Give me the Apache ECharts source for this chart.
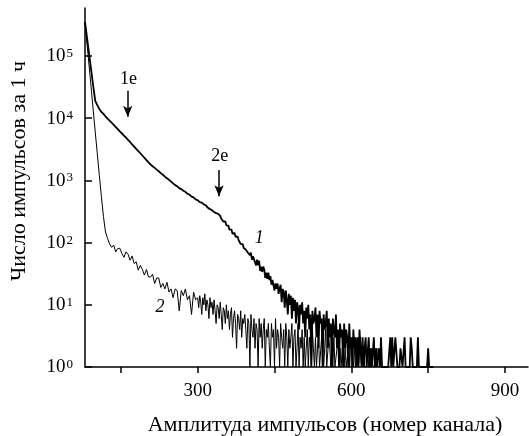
<!DOCTYPE html>
<html>
<head>
<meta charset="utf-8">
<script src="https://cdn.jsdelivr.net/npm/echarts@6/dist/echarts.min.js"></script>
<style>
  html, body { margin: 0; padding: 0; background: #fff; }
  #chart { width: 529px; height: 436px; }
</style>
</head>
<body>
<div id="chart"></div>
<script>
// Pulse-height spectra, counts per hour.
// Head part: one value every 4 channels from channel 80 to 300.
// Tail part: one value every 2 channels from channel 302 onwards.
const HEAD_START = 80, HEAD_STEP = 4;
const TAIL_START = 302, TAIL_STEP = 2;

// Spectrum 1 (thick curve)
const spectrum1Head = [
  352000, 195000, 108000, 59700, 33000, 19000, 16200, 14100, 12600, 11700, 10700, 9800, 9100,
  8450, 7810, 7210, 6670, 6150, 5690, 5250, 4850, 4480, 4140,
  3800, 3500, 3220, 2960, 2730, 2510, 2310, 2120, 1950, 1800,
  1690, 1590, 1490, 1400, 1310, 1230, 1150, 1080, 1020, 953, 894, 839,
  805, 752, 724, 680, 655, 610, 592, 549, 533, 496, 480
];
const spectrum1Tail = [
  471, 448, 437, 439, 414, 411, 393, 396, 381, 362, 364, 345, 347, 330, 327, 311, 312, 297, 286, 290, 272,
  268, 243, 250, 218, 215, 219, 189, 194, 188, 161, 160, 162, 138, 142, 143, 124, 116, 125, 109, 109,
  95, 101, 94, 82, 87, 77, 81, 69, 70, 63,
  69, 53, 60, 63, 48, 43, 53, 43, 51, 35, 41, 34, 41, 37, 27, 33, 26, 33, 25, 29, 21, 25, 25, 17, 22, 18, 22, 15, 18,
  21, 11, 18, 16, 9, 17, 12, 7, 15, 10, 14, 6, 13, 8, 12, 5, 11, 9, 4, 10,
  7, 11, 5, 8, 3, 9, 6, 10, 4, 7, 1, 8, 5, 6, 9, 3, 7, 2, 8, 5, 6, 1, 7, 4, 5, 8, 2, 6, 3, 5,
  1, 6, 4, 3, 7, 2, 4, 1, 5, 3, 4, 1, 5, 2, 4, 3, 1, 5, 2, 3,
  1, 4, 2, 3, 1, 3, 1, 4, 2, 1, 3, 1, 2, 3, 1, 1, 3, 1, 2, 1, 1, 3, 1, 2, 1, 1, 2, 1, 3, 1,
  1, 1, 1, 1, 1, 1, 1, 3, 1, 3, 1, 1, 3, 3, 1, 1, 1, 2, 2, 1, 1, 3, 1, 1, 1, 1, 1, 3, 2, 1,
  1, 1, 1, 1, 3, 1, 1, 1, 1, 1, 1, 1, 1, 1, 2, 1, 1, 1, 1, 1
];

// Spectrum 2 (thin curve)
const spectrum2Head = [
  352000, 155000, 69000, 31000, 13500, 6000, 2700, 1200, 550, 263, 148, 117, 95,
  84, 91, 71, 80, 81, 67, 58, 71, 65, 52, 61, 46, 49, 36, 43, 37, 30, 37, 28, 28,
  31, 22, 27, 27, 19, 22, 18, 23, 16, 18, 13, 18, 17, 8, 17, 14, 18, 12, 14, 7, 16, 12, 13
];
const spectrum2Tail = [
  9, 14, 11, 7, 13, 10, 15, 8, 12, 10, 6, 13,
  9, 11, 7, 12, 8, 5, 10, 9, 6, 11, 7, 4, 9, 8, 5, 10, 6,
  8, 4, 7, 9, 3, 6, 8, 5, 2, 7, 6, 4, 8, 3, 6, 5,
  7, 4, 2, 6, 5, 1, 7, 4, 3, 6, 2, 5, 4, 1, 6, 3,
  5, 2, 4, 6, 1, 4, 3, 5, 2, 1, 5, 3, 4, 1, 6, 2, 4,
  3, 1, 5, 3, 2, 4, 1, 5, 3, 1, 4, 2, 3, 5, 1,
  3, 4, 1, 2, 5, 1, 3, 2, 4, 1, 3, 1, 2, 4, 1, 3, 2, 1, 4, 2, 1, 3, 1, 2, 3, 1, 1, 3, 2, 1, 2, 4, 1, 1, 3, 2, 1,
  2, 1, 3, 1, 1, 2, 3, 1, 2, 1, 1, 3, 1, 2, 1, 1, 2, 1, 3, 1, 1, 1, 2, 1, 1, 2, 1, 1, 3, 1,
  1, 2, 1, 1, 1, 2, 1, 1, 1, 2, 1, 1, 1, 1, 2, 1, 1, 1, 1, 1
];

// Axis ticks and labels
const xTickValues = [150, 300, 450, 600, 750, 900];
const xLabelValues = [300, 600, 900];
const yTickValues = [1, 10, 100, 1000, 10000, 100000];

// Arrow annotations: name, channel, arrow start, arrow tip, text level
const arrowNames = ['1e', '2e'];
const arrowChannels = [163.4, 341.7];
const arrowStarts = [27700, 1463];
const arrowTips = [10550, 558];
const arrowTextLevels = [41900, 2415];

// Curve numbers: name, channel, level
const curveNames = ['1', '2'];
const curveNameChannels = [420, 226.5];
const curveNameLevels = [116, 9.0];

const FONT = 'Liberation Serif';

function toPairs(head, tail) {
  const pts = head.map((v, i) => [HEAD_START + i * HEAD_STEP, v]);
  return pts.concat(tail.map((v, i) => [TAIL_START + i * TAIL_STEP, v]));
}

const chart = echarts.init(document.getElementById('chart'), null, { renderer: 'canvas' });

const markLineData = arrowNames.map((n, i) => [
  { coord: [arrowChannels[i], arrowStarts[i]] },
  { coord: [arrowChannels[i], arrowTips[i]] }
]);

const markPointData = arrowNames.map((n, i) => ({
  coord: [arrowChannels[i] + 1.5, arrowTextLevels[i]],
  label: { formatter: n, fontStyle: 'normal' }
})).concat(curveNames.map((n, i) => ({
  coord: [curveNameChannels[i], curveNameLevels[i]],
  label: { formatter: n, fontStyle: 'italic' }
})));

const option = {
  animation: false,
  backgroundColor: '#fff',
  grid: { left: 85, right: 1, top: 8, bottom: 69, containLabel: false, outerBoundsMode: 'none' },
  xAxis: {
    type: 'value',
    min: 80,
    max: 945,
    axisLine: { lineStyle: { color: '#000', width: 1.5 } },
    axisTick: { customValues: xTickValues, length: 6, lineStyle: { color: '#000', width: 1.5 } },
    axisLabel: { customValues: xLabelValues, margin: 15, fontSize: 19, fontFamily: FONT, color: '#000' },
    splitLine: { show: false },
    name: 'Амплитуда импульсов (номер канала)',
    nameLocation: 'middle',
    nameGap: 47,
    nameTextStyle: { fontSize: 22, fontFamily: FONT, color: '#000', padding: [0, 0, 0, 37] }
  },
  yAxis: {
    type: 'log',
    logBase: 10,
    min: 1,
    max: 590000,
    axisLine: { show: true, lineStyle: { color: '#000', width: 1.5 } },
    axisTick: { show: true, inside: true, length: 7, customValues: yTickValues, lineStyle: { color: '#000', width: 1.5 } },
    axisLabel: {
      customValues: yTickValues,
      margin: 12,
      formatter: v => '{b|10}{s|' + Math.round(Math.log10(v)) + '}',
      rich: {
        b: { fontSize: 19, fontFamily: FONT, color: '#000', verticalAlign: 'bottom', lineHeight: 20 },
        s: { fontSize: 13, fontFamily: FONT, color: '#000', verticalAlign: 'bottom', lineHeight: 13, padding: [0, 0, 6, 1] }
      }
    },
    splitLine: { show: false },
    minorTick: { show: false },
    name: 'Число импульсов за 1 ч',
    nameLocation: 'middle',
    nameGap: 55,
    nameRotate: 90,
    nameTextStyle: { fontSize: 22, fontFamily: FONT, color: '#000', padding: [0, 0, 0, 33] }
  },
  series: [
    {
      type: 'line',
      data: toPairs(spectrum1Head, spectrum1Tail),
      symbol: 'none',
      lineStyle: { color: '#000', width: 1.8 },
      z: 3,
      markLine: {
        silent: true,
        symbol: ['none', 'arrow'],
        symbolSize: [7, 11],
        lineStyle: { color: '#000', width: 1.5, type: 'solid' },
        label: { show: false },
        data: markLineData
      },
      markPoint: {
        silent: true,
        symbol: 'circle',
        symbolSize: 1,
        itemStyle: { color: 'rgba(0,0,0,0)' },
        label: { show: true, position: 'inside', color: '#000', fontSize: 18, fontFamily: FONT },
        data: markPointData
      }
    },
    {
      type: 'line',
      data: toPairs(spectrum2Head, spectrum2Tail),
      symbol: 'none',
      lineStyle: { color: '#000', width: 1 },
      z: 2
    }
  ]
};

chart.setOption(option);
</script>
</body>
</html>
